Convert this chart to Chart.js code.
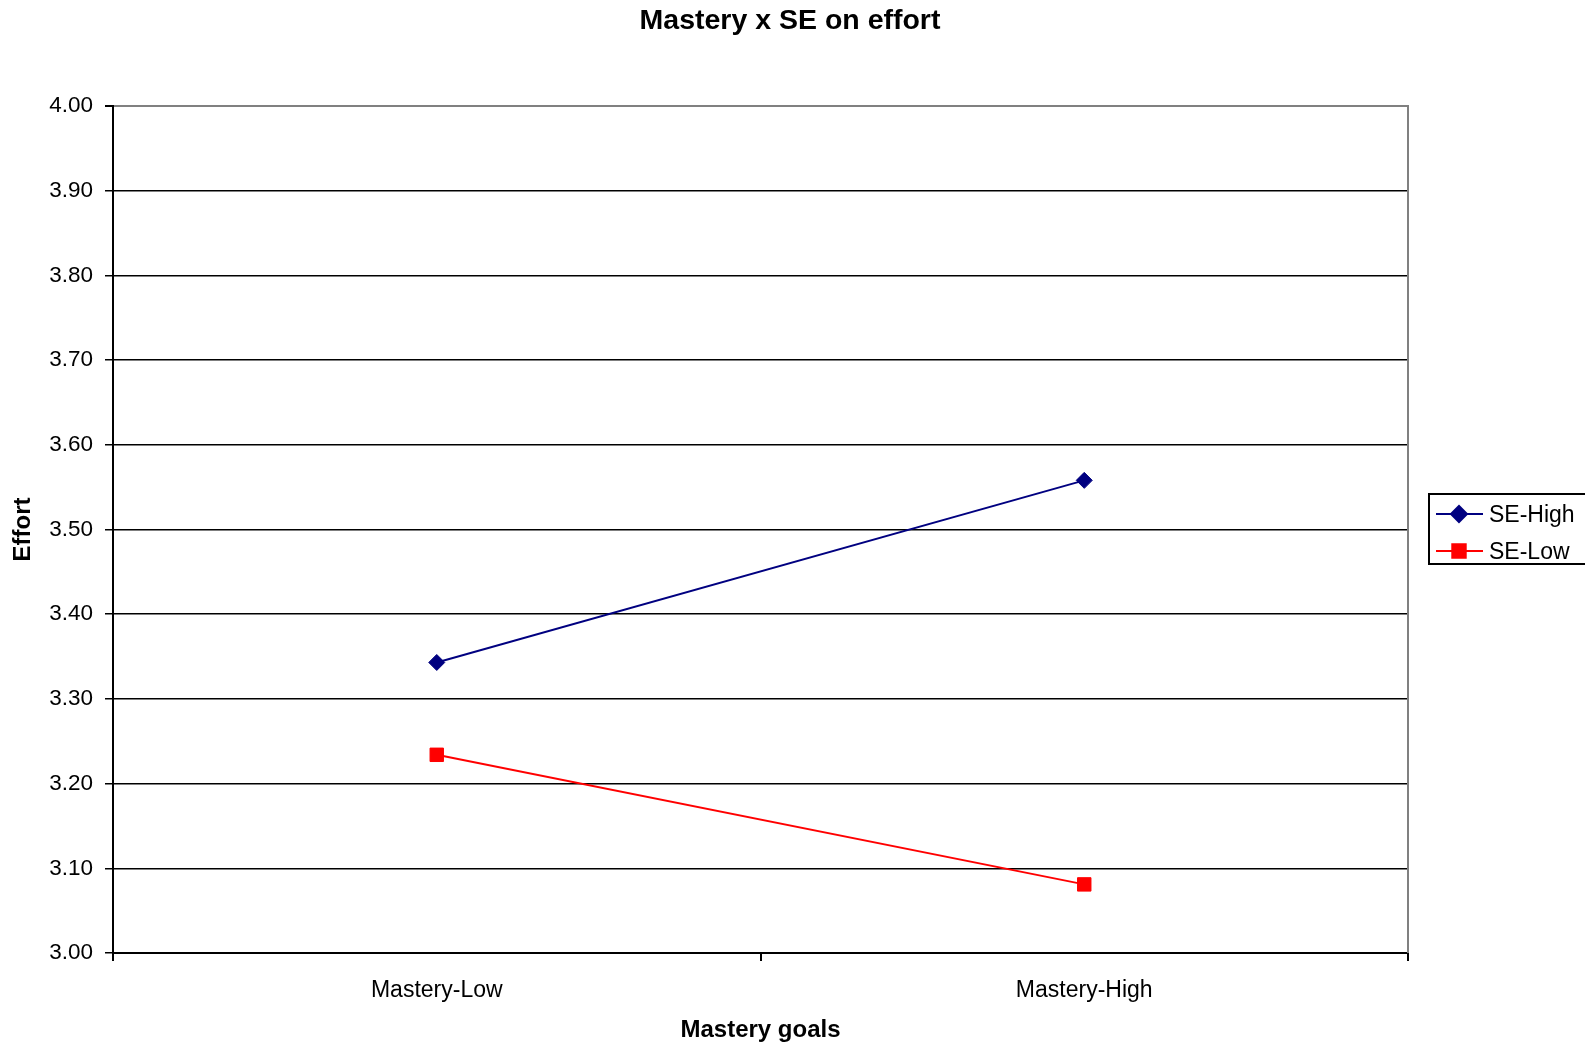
<!DOCTYPE html>
<html>
<head>
<meta charset="utf-8">
<title>Mastery x SE on effort</title>
<script src="https://cdn.jsdelivr.net/npm/chart.js@4.4.1/dist/chart.umd.min.js"></script>
<style>
  body { margin: 0; background: #fff; }
  canvas { display: block; }
</style>
</head>
<body>
<canvas id="grafico" width="1585" height="1047"></canvas>
<script>
// dados
const categorias = ['Mastery-Low', 'Mastery-High'];
const seHigh = [3.343, 3.558];
const seLow = [3.234, 3.081];
const nomesSeries = ['SE-High', 'SE-Low'];
const coresSeries = ['#000080', '#ff0000'];
const estilosPonto = ['rectRot', 'rect'];
const raiosPonto = [8, 9.5];

Chart.defaults.font.family = 'Arial, "Liberation Sans", sans-serif';
Chart.defaults.color = '#000';

const fonteNormal = 23;

// titulo centrado na tela toda
const tituloPlugin = {
  id: 'tituloGrafico',
  afterDraw(chart) {
    const ctx = chart.ctx;
    ctx.save();
    ctx.font = 'bold 28.5px Arial, "Liberation Sans", sans-serif';
    ctx.fillStyle = '#000';
    ctx.textAlign = 'center';
    ctx.textBaseline = 'middle';
    ctx.fillText('Mastery x SE on effort', 790, 21);
    ctx.restore();
  }
};

// borda cinza do lado direito da area do grafico
const bordaPlugin = {
  id: 'bordaDireita',
  beforeDatasetsDraw(chart) {
    const { ctx, chartArea } = chart;
    ctx.save();
    ctx.strokeStyle = '#808080';
    ctx.lineWidth = 2;
    ctx.beginPath();
    ctx.moveTo(chartArea.right, chartArea.top - 1);
    ctx.lineTo(chartArea.right, chartArea.bottom);
    ctx.stroke();
    ctx.restore();
  }
};

// legenda com caixa, igual ao Excel
const legendaPlugin = {
  id: 'legendaCaixa',
  afterDraw(chart) {
    const ctx = chart.ctx;
    ctx.save();
    ctx.strokeStyle = '#000';
    ctx.lineWidth = 2;
    ctx.strokeRect(1429, 494, 170, 70);
    ctx.font = fonteNormal + 'px Arial, "Liberation Sans", sans-serif';
    ctx.textBaseline = 'middle';
    ctx.textAlign = 'left';
    chart.data.datasets.forEach(function (ds, i) {
      const y = 514 + i * 37;
      ctx.strokeStyle = ds.borderColor;
      ctx.lineWidth = 2;
      ctx.beginPath();
      ctx.moveTo(1436, y);
      ctx.lineTo(1483, y);
      ctx.stroke();
      ctx.fillStyle = ds.backgroundColor;
      ctx.strokeStyle = ds.borderColor;
      Chart.helpers.drawPoint(ctx, {
        pointStyle: ds.pointStyle,
        radius: ds.pointRadius,
        rotation: 0,
        borderWidth: 1
      }, 1459, y);
      ctx.fillStyle = '#000';
      ctx.fillText(ds.label, 1489, y + 2);
    });
    ctx.restore();
  }
};

const series = [seHigh, seLow];

new Chart(document.getElementById('grafico'), {
  type: 'line',
  data: {
    labels: categorias,
    datasets: series.map(function (valores, i) {
      return {
        label: nomesSeries[i],
        data: valores,
        borderColor: coresSeries[i],
        backgroundColor: coresSeries[i],
        borderWidth: 2,
        pointStyle: estilosPonto[i],
        pointRadius: raiosPonto[i],
        pointBorderWidth: 1,
        tension: 0
      };
    })
  },
  options: {
    responsive: false,
    animation: false,
    layout: {
      padding: { top: 106, right: 177, left: 0, bottom: 0 }
    },
    plugins: {
      legend: { display: false },
      title: { display: false },
      tooltip: { enabled: false }
    },
    scales: {
      x: {
        type: 'category',
        offset: true,
        grid: {
          offset: true,
          drawOnChartArea: false,
          drawTicks: true,
          tickLength: 8,
          tickColor: '#000',
          lineWidth: 2
        },
        border: { color: '#000', width: 2 },
        ticks: {
          padding: 16,
          font: { size: fonteNormal },
          color: '#000'
        },
        title: {
          display: true,
          text: 'Mastery goals',
          font: { size: 24, weight: 'bold' },
          padding: { top: 0, bottom: 2 }
        },
        afterFit(scale) { scale.height = 94; }
      },
      y: {
        min: 3,
        max: 4,
        grid: {
          color: function (ctx) {
            return ctx.tick && ctx.tick.value === 4 ? '#808080' : '#000';
          },
          lineWidth: function (ctx) {
            return ctx.tick && ctx.tick.value === 4 ? 2 : 1.5;
          },
          tickColor: '#000',
          tickLength: 8
        },
        border: { color: '#000', width: 2 },
        ticks: {
          stepSize: 0.1,
          padding: 12,
          font: { size: 22.5 },
          color: '#000',
          callback: function (v) { return Number(v).toFixed(2); }
        },
        title: {
          display: true,
          text: 'Effort',
          font: { size: 24, weight: 'bold' },
          padding: { top: 9, bottom: 0 }
        },
        afterFit(scale) { scale.width = 113; }
      }
    }
  },
  plugins: [bordaPlugin, tituloPlugin, legendaPlugin]
});
</script>
</body>
</html>
